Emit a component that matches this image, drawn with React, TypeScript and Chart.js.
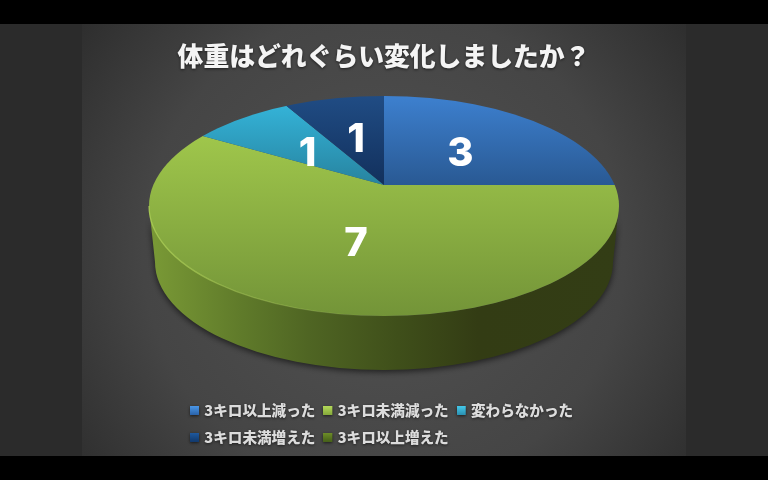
import { useEffect, useRef } from 'react';
import { Chart, registerables } from 'chart.js';

Chart.register(...registerables);

const titleText = '体重はどれぐらい変化しましたか？';
const categories = ['3キロ以上減った', '3キロ未満減った', '変わらなかった', '3キロ未満増えた', '3キロ以上増えた'];
const counts = [3, 7, 1, 1, 0];

// top / bottom shade of every slice face, plus the legend chip colours
const faceTop = ['#3d80cf', '#9fc64b', '#34b3d8', '#204c84', '#5f7f24'];
const faceBottom = ['#295993', '#739438', '#27839f', '#12305c', '#3f5518'];
const chipTop = ['#4a97e8', '#b4d95a', '#45c9ea', '#1f5aa0', '#6f8f28'];
const chipBottom = ['#2a62a8', '#84a83a', '#2a8fb0', '#12396c', '#46601a'];

// the pie is a tilted disc: outline ellipse, and an apex that sits above its centre
const apexX = 384;
const apexY = 185;
const rimY = 206;
const rimRx = 235;
const rimRy = 110;
const tilt = rimRy / rimRx;
const faceRadius = 300;
const labelRadiusX = 108;
const labelRadiusY = 116;

function faceTransform(chart: Chart) {
  const area = chart.chartArea;
  const radius = Math.min(area.right - area.left, area.bottom - area.top) / 2;
  return {
    cx: (area.left + area.right) / 2,
    cy: (area.top + area.bottom) / 2,
    sx: faceRadius / radius,
    sy: (faceRadius * tilt) / radius
  };
}

function sliceColor(context: any) {
  const chart = context.chart as Chart;
  const i = context.dataIndex ?? 0;
  if (!chart.chartArea) return faceTop[i];
  const { cy, sy } = faceTransform(chart);
  const toUser = (py: number) => cy + (py - apexY) / sy;
  const top = [96, 137, 105, 96, 140][i];
  const bottom = [185, 316, 185, 185, 316][i];
  const g = chart.ctx.createLinearGradient(0, toUser(top), 0, toUser(bottom));
  g.addColorStop(0, faceTop[i]);
  g.addColorStop(1, faceBottom[i]);
  return g;
}

// 9px chip on an 11px wide canvas, so the legend text sits a little further off
function makeChip(i: number) {
  const c = document.createElement('canvas');
  c.width = 11;
  c.height = 9;
  const ctx = c.getContext('2d')!;
  const g = ctx.createLinearGradient(0, 0, 0, 9);
  g.addColorStop(0, chipTop[i]);
  g.addColorStop(1, chipBottom[i]);
  ctx.fillStyle = g;
  ctx.fillRect(0, 0, 9, 9);
  return c;
}

const backdropPlugin = {
  id: 'backdrop',
  // the side padding is there for the legend wrap; the title needs more room than that
  afterLayout(chart: any) {
    chart.titleBlock.left = 82;
    chart.titleBlock.right = 686;
  },
  beforeDraw(chart: Chart) {
    const ctx = chart.ctx;
    ctx.fillStyle = '#000000';
    ctx.fillRect(0, 0, 768, 480);
    ctx.fillStyle = '#2b2b2b';
    ctx.fillRect(0, 24, 768, 432);
    const g = ctx.createRadialGradient(384, 250, 60, 384, 250, 390);
    g.addColorStop(0, '#4f4f4f');
    g.addColorStop(0.55, '#454545');
    g.addColorStop(1, '#2c2c2c');
    ctx.fillStyle = g;
    ctx.fillRect(82, 24, 604, 432);

    // soft shadow for the title and legend text, dropped again before the pie
    ctx.save();
    ctx.shadowColor = 'rgba(0,0,0,0.6)';
    ctx.shadowBlur = 3;
    ctx.shadowOffsetY = 1;
  }
};

const discPlugin = {
  id: 'disc',
  beforeDatasetsDraw(chart: Chart) {
    const ctx = chart.ctx;
    ctx.restore();

    // side wall
    ctx.save();
    const wall = ctx.createLinearGradient(149, 0, 619, 0);
    wall.addColorStop(0, '#7a9a36');
    wall.addColorStop(0.2, '#5f7a2a');
    wall.addColorStop(0.34, '#4f6523');
    wall.addColorStop(0.53, '#3f4f1a');
    wall.addColorStop(0.7, '#333c14');
    wall.addColorStop(1, '#333d15');
    ctx.shadowColor = 'rgba(0,0,0,0.6)';
    ctx.shadowBlur = 6;
    ctx.shadowOffsetY = 2;
    ctx.fillStyle = wall;
    ctx.beginPath();
    ctx.moveTo(apexX - rimRx, rimY);
    ctx.lineTo(155, 262);
    ctx.ellipse(apexX, 262, 229, 108, 0, Math.PI, 0, true);
    ctx.lineTo(apexX + rimRx, rimY);
    ctx.ellipse(apexX, rimY, rimRx, rimRy, 0, 0, Math.PI, false);
    ctx.closePath();
    ctx.fill();
    ctx.restore();

    // slices are drawn oversized through the tilt and cut by the rim ellipse
    const { cx, cy, sx, sy } = faceTransform(chart);
    ctx.save();
    ctx.beginPath();
    ctx.ellipse(apexX, rimY, rimRx, rimRy, 0, 0, Math.PI * 2);
    ctx.clip();
    ctx.translate(apexX, apexY);
    ctx.scale(sx, sy);
    ctx.translate(-cx, -cy);
  },
  afterDatasetsDraw(chart: Chart) {
    const ctx = chart.ctx;
    ctx.restore();

    // light edge on the near left of the rim
    const rim = ctx.createLinearGradient(150, 0, 384, 0);
    rim.addColorStop(0, 'rgba(178,214,88,0.8)');
    rim.addColorStop(1, 'rgba(178,214,88,0)');
    ctx.strokeStyle = rim;
    ctx.lineWidth = 1.2;
    ctx.beginPath();
    ctx.ellipse(apexX, rimY, rimRx, rimRy, 0, Math.PI / 2, Math.PI);
    ctx.stroke();

    // value labels
    const arcs = chart.getDatasetMeta(0).data as any[];
    ctx.save();
    ctx.fillStyle = '#ffffff';
    ctx.font = '800 40px Inter';
    ctx.textAlign = 'center';
    ctx.textBaseline = 'middle';
    arcs.forEach((arc, i) => {
      if (!counts[i]) return;
      const mid = (arc.startAngle + arc.endAngle) / 2;
      const x = apexX + labelRadiusX * Math.cos(mid);
      const y = apexY + labelRadiusY * tilt * Math.sin(mid) + 7;
      ctx.fillText(String(counts[i]), x, y);
    });
    ctx.restore();
  }
};

export default function App() {
  const chartRef = useRef<HTMLCanvasElement>(null);

  useEffect(() => {
    if (!chartRef.current) return;
    const chips = categories.map((_, i) => makeChip(i));

    const chart = new Chart(chartRef.current, {
      type: 'pie',
      data: {
        labels: categories,
        datasets: [
          {
            data: counts,
            backgroundColor: sliceColor,
            borderWidth: 0,
            clip: false
          } as any
        ]
      },
      options: {
        responsive: true,
        maintainAspectRatio: false,
        animation: false,
        events: [],
        layout: {
          padding: { top: 24, left: 182, right: 182, bottom: 25.5 }
        },
        plugins: {
          title: {
            display: true,
            text: titleText,
            color: '#f4f4f4',
            font: { family: '"Noto Sans CJK JP"', size: 25.8, weight: '900' },
            padding: { top: 17, bottom: 10 }
          },
          legend: {
            position: 'bottom',
            align: 'start',
            labels: {
              usePointStyle: true,
              pointStyleWidth: 3,
              boxHeight: 9,
              padding: 12,
              color: '#dcdcdc',
              font: { family: '"Noto Sans CJK JP"', size: 14.6, weight: '900' },
              generateLabels: () =>
                categories.map((text, i) => ({
                  text,
                  index: i,
                  hidden: false,
                  lineWidth: 0,
                  fillStyle: chipTop[i],
                  strokeStyle: chipTop[i],
                  fontColor: '#dcdcdc',
                  pointStyle: chips[i]
                }))
            }
          },
          tooltip: { enabled: false }
        }
      },
      plugins: [backdropPlugin, discPlugin]
    });

    return () => {
      chart.destroy();
    };
  }, []);

  return (
    <div style={{ position: 'absolute', left: 0, top: 0, width: 768, height: 480 }}>
      <canvas ref={chartRef} />
    </div>
  );
}
